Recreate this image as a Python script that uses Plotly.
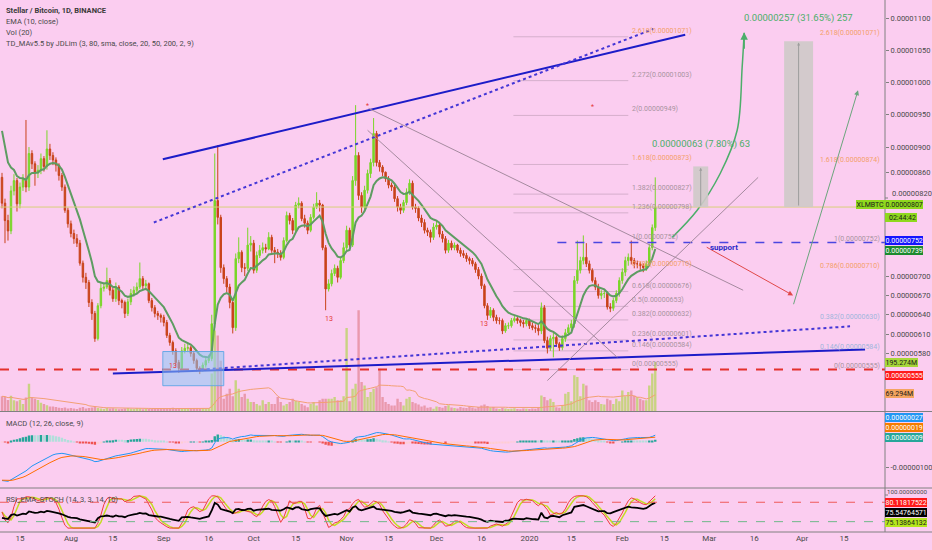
import numpy as np
import pandas as pd
import plotly.graph_objects as go

# XLM/BTC 1D candles (Binance), prices in satoshi (1e-8 BTC)
close_jul = [813, 786, 770, 832, 848, 812, 838, 850, 838, 890, 874, 860, 864, 882, 870, 897, 887, 880, 872, 856, 838, 802, 781]
high_jul = [860, 820, 795, 840, 858, 852, 845, 858, 942, 900, 895, 878, 872, 890, 886, 926, 905, 892, 884, 875, 860, 842, 806]
low_jul = [805, 751, 755, 765, 825, 800, 805, 832, 830, 832, 866, 840, 852, 858, 862, 865, 880, 872, 862, 848, 832, 798, 775]
vol_jul = [60, 58, 45, 62, 44, 40, 45, 30, 55, 110, 55, 50, 45, 35, 30, 25, 20, 20, 18, 15, 14, 16, 12]

close_aug = [766, 758, 751, 720, 698, 690, 659, 642, 603, 654, 681, 683, 693, 678, 665, 683, 662, 659, 642, 660, 673, 678, 683, 696, 685, 688, 662, 651, 642, 639, 636]
high_aug = [786, 772, 765, 756, 724, 705, 694, 664, 646, 658, 690, 690, 713, 697, 682, 690, 686, 665, 662, 665, 680, 684, 690, 721, 700, 694, 690, 666, 655, 646, 642]
low_aug = [760, 750, 745, 716, 690, 680, 652, 632, 598, 600, 650, 676, 680, 670, 660, 660, 655, 650, 635, 638, 655, 668, 672, 680, 680, 678, 658, 645, 636, 632, 628]
vol_aug = [14, 12, 10, 15, 18, 12, 14, 16, 20, 14, 12, 10, 14, 12, 13, 11, 9, 10, 12, 14, 11, 10, 13, 12, 9, 11, 10, 12, 11, 10, 13]

close_sep = [628, 608, 597, 584, 566, 557, 584, 588, 589, 580, 569, 557, 555, 562, 569, 572, 626, 817, 791, 713, 696, 683, 659, 620, 727, 737, 713, 712, 748, 751]
high_sep = [640, 632, 612, 600, 588, 570, 590, 595, 596, 592, 584, 572, 560, 566, 574, 578, 640, 890, 903, 795, 718, 700, 688, 664, 735, 760, 740, 720, 775, 762]
low_sep = [622, 604, 592, 578, 560, 550, 554, 580, 582, 575, 564, 552, 548, 552, 558, 565, 568, 620, 780, 705, 688, 675, 650, 611, 615, 720, 706, 700, 708, 738]
vol_sep = [12, 11, 14, 15, 13, 12, 10, 11, 12, 13, 14, 12, 11, 13, 12, 14, 150, 320, 300, 200, 50, 70, 90, 60, 123, 90, 57, 70, 50, 37]

close_oct = [709, 732, 740, 744, 742, 760, 740, 737, 735, 729, 755, 794, 786, 771, 810, 813, 789, 782, 771, 791, 807, 813, 810, 744, 680, 688, 704, 712, 698, 724, 744]
high_oct = [756, 738, 748, 752, 750, 768, 764, 745, 742, 740, 760, 800, 798, 790, 815, 822, 816, 795, 786, 796, 812, 830, 818, 812, 748, 695, 710, 718, 716, 728, 752]
low_oct = [704, 705, 728, 735, 736, 740, 736, 720, 728, 724, 726, 752, 780, 765, 768, 805, 785, 775, 765, 768, 788, 804, 800, 740, 647, 676, 684, 700, 690, 695, 720]
vol_oct = [37, 30, 24, 44, 30, 37, 30, 30, 57, 37, 24, 30, 37, 50, 41, 37, 30, 24, 17, 30, 37, 24, 44, 50, 50, 50, 50, 57, 44, 44, 60]

close_nov = [771, 748, 848, 887, 825, 807, 833, 859, 876, 921, 876, 869, 861, 851, 841, 838, 820, 807, 802, 814, 830, 844, 807, 805, 790, 783, 771, 768, 760, 776]
high_nov = [778, 775, 855, 965, 892, 830, 840, 865, 882, 945, 925, 880, 872, 862, 855, 845, 842, 824, 812, 818, 836, 850, 848, 812, 808, 795, 788, 775, 772, 782]
low_nov = [740, 744, 745, 840, 818, 798, 800, 828, 852, 870, 870, 862, 855, 846, 836, 832, 815, 800, 796, 798, 810, 826, 803, 798, 785, 776, 766, 762, 752, 756]
vol_nov = [330, 40, 90, 110, 400, 116, 103, 57, 77, 90, 96, 169, 57, 37, 30, 24, 24, 50, 37, 24, 50, 57, 37, 33, 28, 20, 24, 15, 17, 11]

close_dec = [779, 765, 758, 740, 751, 744, 748, 740, 735, 732, 727, 724, 719, 710, 700, 685, 654, 639, 647, 636, 631, 631, 615, 623, 623, 631, 634, 631, 628, 626, 631]
high_dec = [786, 784, 770, 762, 756, 755, 752, 750, 744, 740, 736, 730, 728, 722, 714, 704, 688, 658, 652, 650, 640, 636, 634, 627, 628, 635, 638, 637, 634, 632, 635]
low_dec = [772, 760, 752, 735, 736, 740, 740, 736, 730, 728, 722, 718, 715, 705, 695, 680, 650, 632, 635, 630, 626, 625, 610, 612, 618, 620, 628, 626, 622, 620, 622]
vol_dec = [20, 18, 15, 22, 25, 16, 14, 12, 18, 15, 14, 20, 16, 12, 18, 24, 28, 22, 16, 18, 12, 10, 14, 12, 10, 11, 13, 10, 9, 12, 11]

close_jan = [623, 620, 619, 615, 651, 600, 588, 603, 605, 595, 589, 603, 612, 620, 626, 693, 709, 724, 729, 719, 709, 693, 683, 670, 673, 673, 652, 650, 662, 673, 693]
high_jan = [634, 628, 625, 624, 659, 655, 606, 608, 612, 608, 598, 608, 618, 625, 632, 700, 755, 730, 763, 751, 724, 712, 698, 688, 678, 680, 676, 658, 666, 678, 698]
low_jan = [618, 616, 612, 608, 610, 596, 580, 584, 574, 590, 584, 585, 598, 608, 615, 620, 688, 704, 718, 714, 704, 690, 678, 665, 664, 666, 648, 644, 646, 658, 668]
vol_jan = [10, 12, 11, 14, 63, 57, 44, 50, 37, 17, 15, 24, 70, 77, 40, 143, 136, 60, 110, 103, 44, 37, 44, 37, 30, 28, 50, 44, 30, 50, 40]

close_feb = [706, 724, 729, 724, 719, 719, 716, 713, 719, 744, 775, 807]
high_feb = [712, 730, 735, 755, 728, 724, 722, 720, 724, 750, 780, 853]
low_feb = [688, 700, 716, 718, 712, 712, 708, 706, 708, 716, 740, 770]
vol_feb = [83, 60, 77, 83, 63, 57, 50, 44, 44, 103, 150, 195]

first_open = 853

# indicator state at the left edge (the history before Jul 9 is off-chart)
ema10_seed = 950
ema12_seed = 975
ema26_seed = 1125
signal_seed = -150
rsi_gain_seed = 8
rsi_loss_seed = 14

# price axis ticks (sat) that are not hidden behind the value labels, and date ticks
price_ticks = [1100, 1050, 1000, 950, 900, 860, 700, 670, 640, 610, 580]
x_ticks = ["2019-07-15", "2019-08-01", "2019-08-15", "2019-09-01", "2019-09-16", "2019-10-01",
           "2019-10-15", "2019-11-01", "2019-11-15", "2019-12-01", "2019-12-16", "2020-01-01",
           "2020-01-15", "2020-02-01", "2020-02-15", "2020-03-01", "2020-03-16", "2020-04-01", "2020-04-15"]
x_labels = ["15", "Aug", "15", "Sep", "16", "Oct", "15", "Nov", "15", "Dec", "16", "2020",
            "15", "Feb", "15", "Mar", "16", "Apr", "15"]

# fib extension drawn from 0.00000555 to 0.00000752
fib_names = ["0", "0.146", "0.236", "0.382", "0.5", "0.618", "0.786", "1", "1.236", "1.382", "1.618", "2", "2.272", "2.618"]
fib_prices = [555, 584, 601, 632, 653, 676, 710, 752, 798, 827, 873, 949, 1003, 1071]
fib_right_names = ["0", "0.146", "0.382", "0.786", "1", "1.618", "2.618"]
fib_right_prices = [555, 584, 630, 710, 752, 874, 1071]

SAT = 1e-8
FONT = "Liberation Sans Narrow, Arial Narrow, Roboto, sans-serif"
BG = "#fbcdf0"
X_START, X_END = "2019-07-08 08:00", "2020-04-28 16:00"
PW, PH = 885, 532

dates = pd.date_range("2019-07-09", "2020-02-12", freq="D")
closes = np.array(close_jul + close_aug + close_sep + close_oct + close_nov + close_dec + close_jan + close_feb, float)
highs = np.array(high_jul + high_aug + high_sep + high_oct + high_nov + high_dec + high_jan + high_feb, float)
lows = np.array(low_jul + low_aug + low_sep + low_oct + low_nov + low_dec + low_jan + low_feb, float)
vols = np.array(vol_jul + vol_aug + vol_sep + vol_oct + vol_nov + vol_dec + vol_jan + vol_feb, float) * 1e6
opens = np.concatenate([[first_open], closes[:-1]])


def ema(values, span, seed):
    a = 2 / (span + 1)
    out, prev = [], seed
    for v in values:
        prev = prev + a * (v - prev)
        out.append(prev)
    return np.array(out)


ema10 = ema(closes, 10, ema10_seed)
macd = ema(closes, 12, ema12_seed) - ema(closes, 26, ema26_seed)
signal = ema(macd, 9, signal_seed)
hist = macd - signal
vol_ma = pd.Series(vols).rolling(20, min_periods=1).mean()

# RSI (Wilder) + stochastic of RSI
rsi, g, l, prev = [], rsi_gain_seed, rsi_loss_seed, first_open
for c in closes:
    d = c - prev
    g = (g * 13 + max(d, 0)) / 14
    l = (l * 13 + max(-d, 0)) / 14
    rsi.append(100 - 100 / (1 + g / l))
    prev = c
rsi = pd.Series(rsi)
lo, hi = rsi.rolling(14, min_periods=1).min(), rsi.rolling(14, min_periods=1).max()
stoch = ((rsi - lo) / (hi - lo).replace(0, np.nan) * 100).fillna(50)
k_line = stoch.rolling(3, min_periods=1).mean()
d_line = k_line.rolling(3, min_periods=1).mean()

up = closes >= opens
vol_colors = np.where(up, "rgba(160,215,40,0.55)", "rgba(210,80,80,0.42)")
hist_colors = []
for i, h in enumerate(hist):
    ph = hist[i - 1] if i else h
    if h >= 0:
        hist_colors.append("#26a69a" if h >= ph else "#b2dfdb")
    else:
        hist_colors.append("#ef5350" if h < ph else "#ffcdd2")


def py(y):
    return 1 - y / PH


fig = go.Figure()

fig.add_trace(go.Candlestick(
    x=dates, open=opens * SAT, high=highs * SAT, low=lows * SAT, close=closes * SAT,
    increasing=dict(line=dict(color="#7ad62a", width=1), fillcolor="#7ad62a"),
    decreasing=dict(line=dict(color="#c9431a", width=1), fillcolor="#c9431a"),
    whiskerwidth=0, xaxis="x", yaxis="y", hoverinfo="skip"))
fig.add_trace(go.Scatter(x=dates, y=ema10 * SAT, mode="lines", line=dict(color="#5e9c62", width=2),
                         xaxis="x", yaxis="y", hoverinfo="skip"))

# volume on its own overlaid scale
fig.add_trace(go.Bar(x=dates, y=vols, marker=dict(color=list(vol_colors), line=dict(width=0)),
                     xaxis="x", yaxis="y2", hoverinfo="skip"))
fig.add_trace(go.Scatter(x=dates, y=vol_ma, mode="lines", line=dict(color="#f2a073", width=1),
                         xaxis="x", yaxis="y2", hoverinfo="skip"))

# MACD
fig.add_trace(go.Bar(x=dates, y=hist * SAT, marker=dict(color=hist_colors, line=dict(width=0)),
                     xaxis="x", yaxis="y3", hoverinfo="skip"))
fig.add_trace(go.Scatter(x=dates, y=macd * SAT, mode="lines", line=dict(color="#2196f3", width=1),
                         xaxis="x", yaxis="y3", hoverinfo="skip"))
fig.add_trace(go.Scatter(x=dates, y=signal * SAT, mode="lines", line=dict(color="#ff6d00", width=1),
                         xaxis="x", yaxis="y3", hoverinfo="skip"))

# RSI / stoch
fig.add_trace(go.Scatter(x=dates, y=d_line, mode="lines", line=dict(color="#c4dc22", width=1.5),
                         xaxis="x", yaxis="y4", hoverinfo="skip"))
fig.add_trace(go.Scatter(x=dates, y=k_line, mode="lines", line=dict(color="#f03c3c", width=1),
                         xaxis="x", yaxis="y4", hoverinfo="skip"))
fig.add_trace(go.Scatter(x=dates, y=rsi, mode="lines", line=dict(color="#000000", width=1.8),
                         xaxis="x", yaxis="y4", hoverinfo="skip"))

# curved green projection arrow
curve_x = ["2020-02-17 16:00", "2020-02-26", "2020-03-04 16:00", "2020-03-10 08:00", "2020-03-12", "2020-03-12 16:00"]
curve_y = [760, 802, 859, 926, 1024, 1077]
fig.add_trace(go.Scatter(x=curve_x, y=np.array(curve_y) * SAT, mode="lines",
                         line=dict(color="#4cae6a", width=1.5, shape="spline"),
                         xaxis="x", yaxis="y", hoverinfo="skip"))

shapes = []


def seg(p0, p1, color, width=1, dash="solid"):
    shapes.append(dict(type="line", xref="x", yref="y", x0=p0[0], y0=p0[1] * SAT, x1=p1[0], y1=p1[1] * SAT,
                       line=dict(color=color, width=width, dash=dash), layer="above"))


def hline(yref, y, color, width=1, dash="solid", x0=0, x1=1):
    shapes.append(dict(type="line", xref="paper", yref=yref, x0=x0, x1=x1, y0=y, y1=y,
                       line=dict(color=color, width=width, dash=dash), layer="above"))


# levels
hline("y", 807 * SAT, "#d8cf7a", 1)
hline("y", 555 * SAT, "#e4312c", 2, "dash")
shapes.append(dict(type="line", xref="x", yref="y", x0="2020-01-10 08:00", x1=X_END, y0=752 * SAT, y1=752 * SAT,
                   line=dict(color="#4b46e0", width=1.5, dash="dash"), layer="above"))

# fib extension lines
for p in fib_prices:
    if p != 752:
        shapes.append(dict(type="line", xref="x", yref="y", x0="2019-12-26 16:00", x1="2020-02-03",
                           y0=p * SAT, y1=p * SAT, line=dict(color="rgba(170,140,165,0.45)", width=1), layer="below"))

# channel and trend lines
seg(("2019-08-31 16:00", 881), ("2020-02-22", 1074), "#1c1cc8", 2)
seg(("2019-08-28 16:00", 783), ("2020-02-11 08:00", 1083), "#4436d6", 2, "dot")
seg(("2019-08-15", 549), ("2020-04-22", 586), "#1c1cc8", 2)
seg(("2019-09-13 08:00", 555), ("2020-04-17", 622), "#4436d6", 2, "dot")
seg(("2019-11-08 08:00", 960), ("2020-03-12 08:00", 678), "#a58a9f", 1)
seg(("2019-11-08", 926), ("2020-01-30 08:00", 574), "#a58a9f", 1)
seg(("2020-01-07", 538), ("2020-03-17 08:00", 853), "#a58a9f", 1)

# boxes
shapes.append(dict(type="rect", xref="x", yref="y", x0="2019-08-31 16:00", x1="2019-09-21",
                   y0=530 * SAT, y1=583 * SAT, fillcolor="rgba(140,200,245,0.55)",
                   line=dict(color="rgba(95,165,230,0.9)", width=1), layer="above"))
shapes.append(dict(type="rect", xref="x", yref="y", x0="2020-02-24 16:00", x1="2020-02-29 16:00",
                   y0=807 * SAT, y1=870 * SAT, fillcolor="rgba(206,202,200,0.9)", line=dict(width=0), layer="above"))
shapes.append(dict(type="rect", xref="x", yref="y", x0="2020-03-26", x1="2020-04-04 16:00",
                   y0=807 * SAT, y1=1064 * SAT, fillcolor="rgba(206,202,200,0.9)", line=dict(width=0), layer="above"))

# RSI bands
hline("y4", 80, "#ef5a5a", 1, "dash")
hline("y4", 20, "#6fb98a", 1, "dash")

# pane separators
for yy in (411.5, 488, 532):
    shapes.append(dict(type="line", xref="paper", yref="paper", x0=0, x1=932 / PW, y0=py(yy), y1=py(yy),
                       line=dict(color="#808080", width=1), layer="above"))
shapes.append(dict(type="line", xref="paper", yref="paper", x0=1, x1=1, y0=0, y1=1,
                   line=dict(color="#808080", width=1), layer="above"))
# tick marks for the two axis values whose labels are nudged clear of the value boxes
for yy in (198, 495):
    shapes.append(dict(type="line", xref="paper", yref="paper", x0=1, x1=1 + 3 / PW, y0=py(yy), y1=py(yy),
                       line=dict(color="#808080", width=1), layer="above"))

annotations = []


def text(x, y, s, color, size=7.5, xref="paper", yref="paper", xanchor="left", yanchor="middle", yshift=0):
    annotations.append(dict(x=x, y=y, xref=xref, yref=yref, text=s, showarrow=False, xanchor=xanchor,
                            yanchor=yanchor, yshift=yshift, font=dict(color=color, size=size, family=FONT)))


def arrow(head, tail, color, width=1, size=1):
    annotations.append(dict(x=head[0], y=head[1] * SAT, ax=tail[0], ay=tail[1] * SAT, xref="x", yref="y",
                            axref="x", ayref="y", text="", showarrow=True, arrowhead=2, arrowsize=size,
                            arrowwidth=width, arrowcolor=color))


# legends
text(4 / PW, py(10), "<b>Stellar / Bitcoin, 1D, BINANCE</b>", "#3a3a3a")
text(4 / PW, py(22), "EMA (10, close)", "#4a4a4a")
text(4 / PW, py(33), "Vol (20)", "#4a4a4a")
text(4 / PW, py(44), "TD_MAv5.5 by JDLim (3, 80, sma, close, 20, 50, 200, 2, 9)", "#4a4a4a")
text(4 / PW, py(423), "MACD (12, 26, close, 9)", "#4a4a4a")
text(4 / PW, py(499), "RSI_EMA_STOCH (14, 3, 3, 14, 10)", "#4a4a4a")

# fib labels
for n, p in zip(fib_names, fib_prices):
    col = "#f4a06a" if n in ("0.786", "1.618", "2.618") else "#a8939f"
    text("2020-02-03 16:00", p * SAT, f"{n}(0.{p:08d})", col, 7, "x", "y", "left", "bottom")
for n, p in zip(fib_right_names, fib_right_prices):
    col = "#f4a06a" if n in ("0.786", "1.618", "2.618") else ("#9fb6dc" if n in ("0.146", "0.382") else "#a8939f")
    text("2020-04-27 16:00", p * SAT, f"{n}(0.{p:08d})", col, 7, "x", "y", "right", "bottom", -2)

# measurement tool texts and arrows
text("2020-02-27 04:00", 870 * SAT, "0.00000063 (7.80%) 63", "#4caf6a", 9.5, "x", "y", "center", "bottom", 14)
text("2020-03-30 20:00", 1064 * SAT, "0.00000257 (31.65%) 257", "#4caf6a", 9.5, "x", "y", "center", "bottom", 15)
arrow(("2020-02-27 04:00", 868), ("2020-02-27 04:00", 807), "#9d9d9d", 1, 0.6)
arrow(("2020-03-30 20:00", 1062), ("2020-03-30 20:00", 807), "#9d9d9d", 1, 0.6)
arrow(("2020-03-29", 670), ("2020-02-28 16:00", 746), "#e04848", 1, 1)
arrow(("2020-04-19 16:00", 988), ("2020-03-29", 654), "#6aa57c", 1, 1)
arrow(("2020-03-12 16:00", 1078), ("2020-03-12 16:00", 1050), "#4cae6a", 1.5, 1)
text("2020-02-29 16:00", 744 * SAT, "<b>support</b>", "#2a2ac8", 8, "x", "y", "left", "middle")

# TD marks
for d, p in (("2019-09-04", 560), ("2019-10-26", 633), ("2019-12-17", 626)):
    text(d, p * SAT, "13", "#e53935", 7, "x", "y", "center", "middle")
for d, p in (("2019-11-08", 963), ("2020-01-22", 962)):
    text(d, p * SAT, "*", "#e53935", 7, "x", "y", "center", "middle")

# axis values partly covered by the value boxes in the original, shifted just clear of them
text(1 + 5 / PW, py(193.5), "0.00000820", "#4a4a4a", 7.5)
text(929 / PW, py(492), "100.00000000", "#4a4a4a", 6.2, xanchor="right")


def axis_label(y, s, bg, fg="#ffffff", yref="paper", xanchor="left"):
    annotations.append(dict(x=1, xref="paper", xanchor=xanchor, y=y, yref=yref, yanchor="middle", text=s,
                            showarrow=False, bgcolor=bg, borderpad=0.5, borderwidth=0,
                            font=dict(color=fg, size=7, family=FONT)))


axis_label(py(204.5), "XLMBTC", "#8fd81e", "#1a1a1a", xanchor="right")
axis_label(py(204.5), "0.00000807", "#8fd81e", "#1a1a1a")
axis_label(py(217), "  02:44:42", "#8fd81e", "#1a1a1a")
axis_label(py(240), "0.00000752", "#1515ff")
axis_label(py(251), "0.00000739", "#1c8a2e")
axis_label(py(362), "195.274M", "#a7d63a", "#1a1a1a")
axis_label(py(375), "0.00000555", "#ff1a1a")
axis_label(py(393), "69.294M", "#f4a460", "#1a1a1a")
axis_label(py(417), "0.00000027", "#2196f3")
axis_label(py(427), "0.00000019", "#f57c00")
axis_label(py(437), "0.00000009", "#26a69a")
axis_label(py(502.5), "80.11817522", "#ff1a1a")
axis_label(py(512.5), "75.54764571", "#000000")
axis_label(py(522.5), "75.13864132", "#b5e61d", "#1a1a1a")

tickfont = dict(size=7.5, color="#4a4a4a", family=FONT)
yax = dict(side="right", anchor="x", showgrid=False, zeroline=False, ticks="outside", ticklen=3,
           tickcolor="#808080", tickfont=tickfont, showline=False, fixedrange=True)

fig.update_layout(
    width=932, height=550,
    margin=dict(l=0, r=932 - PW, t=0, b=550 - PH),
    paper_bgcolor=BG, plot_bgcolor=BG,
    showlegend=False, bargap=0.2,
    font=dict(family=FONT),
    xaxis=dict(type="date", range=[X_START, X_END], domain=[0, 1], anchor="y4",
               tickvals=x_ticks, ticktext=x_labels, tickfont=dict(size=8, color="#4a4a4a", family=FONT),
               showgrid=False, zeroline=False, ticks="", rangeslider=dict(visible=False), showline=False),
    yaxis=dict(yax, domain=[py(411.5), 1], range=[490 * SAT, 1128 * SAT],
               tickvals=[t * SAT for t in price_ticks], ticktext=[f"0.{t:08d}" for t in price_ticks]),
    yaxis2=dict(overlaying="y", anchor="x", range=[0, 1624e6], visible=False, fixedrange=True),
    yaxis3=dict(yax, domain=[py(488), py(412.5)], range=[-181 * SAT, 115 * SAT],
                tickvals=[-100 * SAT], ticktext=["-0.00000100"]),
    yaxis4=dict(yax, domain=[0, py(489)], range=[-12, 121], tickvals=[]),
    shapes=shapes,
    annotations=annotations,
)

fig.write_html("out.html", config={"displayModeBar": False},
               post_script="document.body.style.margin='0';")
